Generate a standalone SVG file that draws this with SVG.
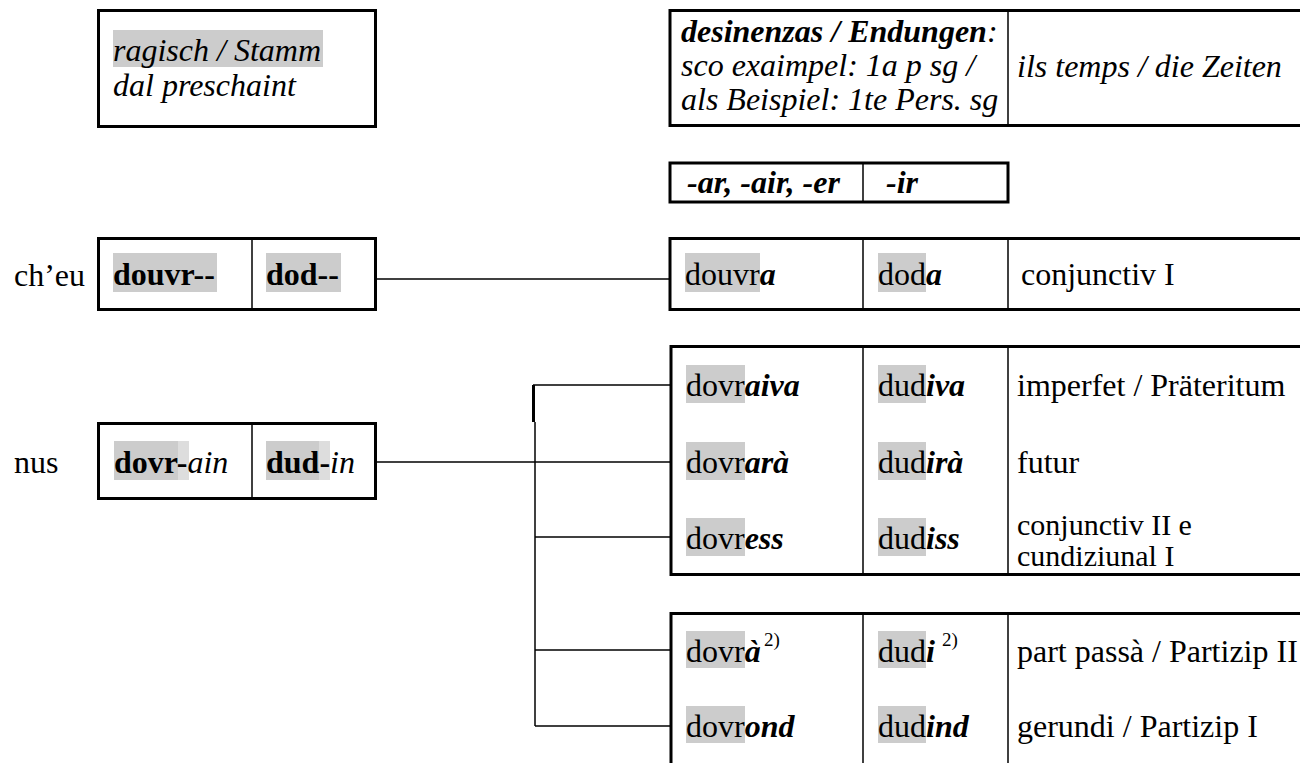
<svg xmlns="http://www.w3.org/2000/svg" width="1300" height="763" viewBox="0 0 1300 763">
<style>
text { font-family: "Liberation Serif", "Times New Roman", serif; font-size: 32px; fill: #000; }
.i { font-style: italic; }
.b { font-weight: bold; }
.bi { font-weight: bold; font-style: italic; }
.box { fill: #fff; stroke: #000; stroke-width: 3; }
.div { stroke: #000; stroke-width: 1.5; }
.hl { fill: #cccccc; }
.hl2 { fill: #dddddd; }
.conn { stroke: #000; stroke-width: 1.5; fill: none; }
.sup { font-size: 19px; }
.two { font-size: 30px; }
</style>
<rect width="1300" height="763" fill="#fff"/>

<g id="connectors">
  <line class="conn" x1="376" y1="279" x2="670" y2="279"/>
  <line class="conn" x1="376" y1="462" x2="670" y2="462"/>
  <line class="conn" x1="533.5" y1="385" x2="533.5" y2="422" style="stroke-width:3"/>
  <line class="conn" x1="535" y1="422" x2="535" y2="726"/>
  <line class="conn" x1="533" y1="385" x2="670" y2="385"/>
  <line class="conn" x1="535" y1="537" x2="670" y2="537"/>
  <line class="conn" x1="535" y1="650" x2="670" y2="650"/>
  <line class="conn" x1="535" y1="726" x2="670" y2="726"/>
</g>

<g id="stem-header">
  <rect class="box" x="98.5" y="10.5" width="277" height="116"/>
  <rect class="hl" x="113" y="30" width="210" height="37"/>
  <text class="i" x="113" y="61">ragisch / Stamm</text>
  <text class="i" x="113" y="96">dal preschaint</text>
</g>

<g id="endings-header">
  <rect class="box" x="670" y="10.5" width="640" height="115"/>
  <line class="div" x1="1008" y1="10" x2="1008" y2="126"/>
  <text x="681" y="42"><tspan class="bi">desinenzas / Endungen</tspan><tspan class="i">:</tspan></text>
  <text class="i" x="681" y="76">sco exaimpel: 1a p sg /</text>
  <text class="i" x="681" y="110">als Beispiel: 1te Pers. sg</text>
  <text class="i" x="1017" y="77">ils temps / die Zeiten</text>
</g>

<g id="verb-classes">
  <rect class="box" x="670" y="163" width="338" height="39"/>
  <line class="div" x1="863" y1="163" x2="863" y2="202"/>
  <text class="bi" x="687" y="193">-ar, -air, -er</text>
  <text class="bi" x="886" y="193">-ir</text>
</g>

<g id="cheu-stem">
  <text x="14" y="286">ch’eu</text>
  <rect class="box" x="98.5" y="238.5" width="277" height="71"/>
  <line class="div" x1="252" y1="238" x2="252" y2="310"/>
  <rect class="hl" x="113" y="253" width="104" height="39"/>
  <rect class="hl" x="266" y="253" width="75" height="39"/>
  <text class="b" x="113" y="285">douvr--</text>
  <text class="b" x="266" y="285">dod--</text>
</g>

<g id="conjunctiv-1">
  <rect class="box" x="670" y="238.5" width="640" height="71"/>
  <line class="div" x1="863" y1="238" x2="863" y2="310"/>
  <line class="div" x1="1008" y1="238" x2="1008" y2="310"/>
  <rect class="hl" x="685" y="253" width="75" height="39"/>
  <rect class="hl" x="878" y="253" width="48" height="39"/>
  <text x="685" y="285">douvr<tspan class="bi">a</tspan></text>
  <text x="878" y="285">dod<tspan class="bi">a</tspan></text>
  <text x="1021" y="285">conjunctiv I</text>
</g>

<g id="nus-stem">
  <text x="14" y="473">nus</text>
  <rect class="box" x="98.5" y="423.5" width="277" height="75"/>
  <line class="div" x1="252" y1="423" x2="252" y2="499"/>
  <rect class="hl" x="114" y="441" width="64" height="39"/>
  <rect class="hl2" x="178" y="441" width="11" height="39"/>
  <rect class="hl" x="266" y="441" width="53" height="39"/>
  <rect class="hl2" x="319" y="441" width="11" height="39"/>
  <text x="114" y="473"><tspan class="b">dovr-</tspan><tspan class="i">ain</tspan></text>
  <text x="266" y="473"><tspan class="b">dud-</tspan><tspan class="i">in</tspan></text>
</g>

<g id="tenses">
  <rect class="box" x="671" y="346.5" width="640" height="228"/>
  <line class="div" x1="863" y1="346" x2="863" y2="575"/>
  <line class="div" x1="1008" y1="346" x2="1008" y2="575"/>
  <rect class="hl" x="686" y="365" width="59" height="38"/>
  <rect class="hl" x="878" y="365" width="48" height="38"/>
  <rect class="hl" x="686" y="442" width="59" height="38"/>
  <rect class="hl" x="878" y="442" width="48" height="38"/>
  <rect class="hl" x="686" y="518" width="59" height="38"/>
  <rect class="hl" x="878" y="518" width="48" height="38"/>
  <text x="686" y="396">dovr<tspan class="bi">aiva</tspan></text>
  <text x="878" y="396">dud<tspan class="bi">iva</tspan></text>
  <text x="1017" y="396">imperfet / Präteritum</text>
  <text x="686" y="473">dovr<tspan class="bi">arà</tspan></text>
  <text x="878" y="473">dud<tspan class="bi">irà</tspan></text>
  <text x="1017" y="473">futur</text>
  <text x="686" y="549">dovr<tspan class="bi">ess</tspan></text>
  <text x="878" y="549">dud<tspan class="bi">iss</tspan></text>
  <text class="two" x="1017" y="535">conjunctiv II e</text>
  <text class="two" x="1017" y="566">cundiziunal I</text>
</g>

<g id="participles">
  <rect class="box" x="671" y="613.5" width="640" height="200"/>
  <line class="div" x1="863" y1="613" x2="863" y2="763"/>
  <line class="div" x1="1008" y1="613" x2="1008" y2="763"/>
  <rect class="hl" x="686" y="631" width="59" height="37"/>
  <rect class="hl" x="878" y="631" width="48" height="37"/>
  <rect class="hl" x="686" y="706" width="59" height="37"/>
  <rect class="hl" x="878" y="706" width="48" height="37"/>
  <text x="686" y="662">dovr<tspan class="bi">à</tspan></text>
  <text class="sup" x="764" y="646">2)</text>
  <text x="878" y="662">dud<tspan class="bi">i</tspan></text>
  <text class="sup" x="942" y="646">2)</text>
  <text x="1017" y="662">part passà / Partizip II</text>
  <text x="686" y="737">dovr<tspan class="bi">ond</tspan></text>
  <text x="878" y="737">dud<tspan class="bi">ind</tspan></text>
  <text x="1017" y="737">gerundi / Partizip I</text>
</g>
</svg>
